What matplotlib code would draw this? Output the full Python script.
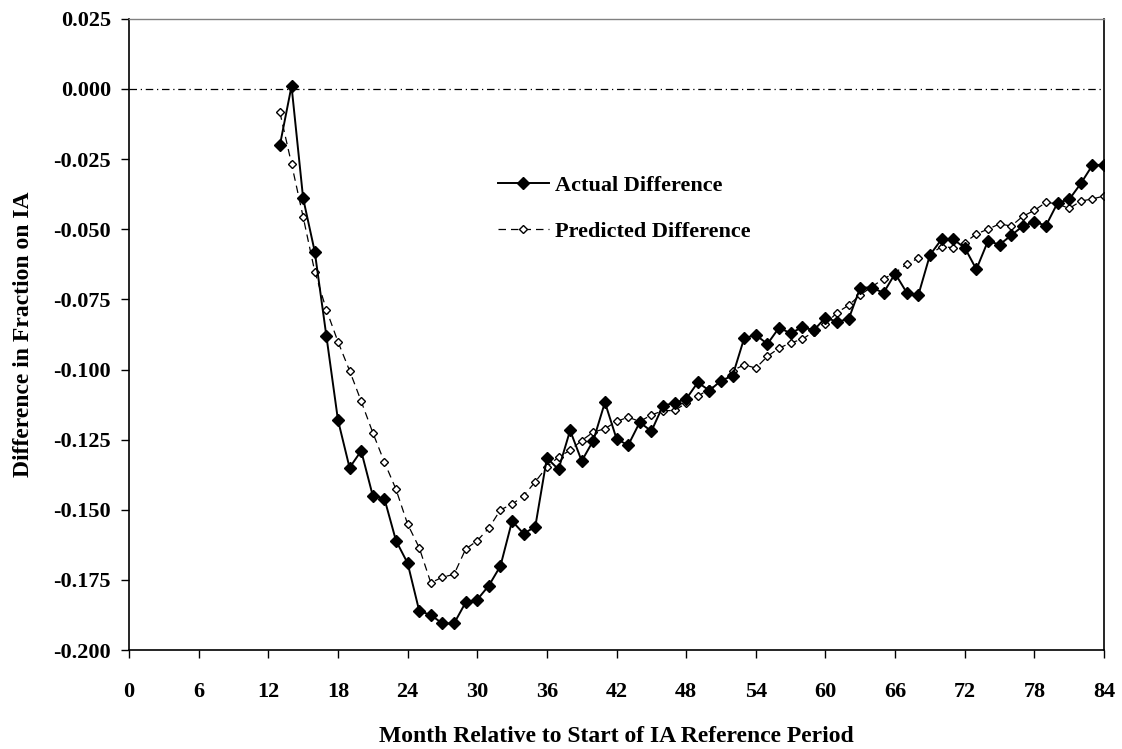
import matplotlib
matplotlib.use("Agg")
import matplotlib.pyplot as plt

# data
months = list(range(13, 85))

actual = [-0.020, 0.001, -0.039, -0.058, -0.088, -0.118, -0.135, -0.129,
          -0.145, -0.146, -0.161, -0.169, -0.186, -0.1875, -0.1905, -0.1905,
          -0.183, -0.182, -0.177, -0.170, -0.154, -0.1585, -0.156, -0.1315,
          -0.1356, -0.1217, -0.1326, -0.1253, -0.1117, -0.1247, -0.127, -0.1188,
          -0.122, -0.1129, -0.1119, -0.1105, -0.1046, -0.1075, -0.104, -0.1022,
          -0.0888, -0.0877, -0.0909, -0.0851, -0.0871, -0.0849, -0.086, -0.0815,
          -0.083, -0.082, -0.0708, -0.0708, -0.0727, -0.0658, -0.0726, -0.0735,
          -0.0592, -0.0536, -0.0536, -0.0566, -0.0643, -0.0542, -0.0555, -0.0522,
          -0.0489, -0.0474, -0.0487, -0.0406, -0.0394, -0.0337, -0.0272, -0.027]

predicted = [-0.0084, -0.0267, -0.0456, -0.0651, -0.0787, -0.0901, -0.1004, -0.1113,
             -0.1225, -0.133, -0.1427, -0.1551, -0.1635, -0.176, -0.174, -0.173,
             -0.164, -0.161, -0.1565, -0.150, -0.148, -0.145, -0.140, -0.1347,
             -0.1312, -0.1288, -0.1253, -0.1223, -0.1211, -0.1185, -0.117, -0.1185,
             -0.1162, -0.1147, -0.1146, -0.112, -0.1095, -0.107, -0.1045, -0.1004,
             -0.0983, -0.0995, -0.0953, -0.0924, -0.0905, -0.0892, -0.0865, -0.0838,
             -0.0797, -0.0771, -0.0734, -0.0705, -0.0677, -0.0655, -0.0625, -0.0603,
             -0.059, -0.0562, -0.0566, -0.0548, -0.0517, -0.050, -0.0481, -0.0489,
             -0.0454, -0.0433, -0.0404, -0.041, -0.0426, -0.040, -0.0392, -0.0382]

x_ticks = list(range(0, 85, 6))
y_ticks = [-0.200, -0.175, -0.150, -0.125, -0.100, -0.075, -0.050, -0.025, 0.000, 0.025]

plt.rcParams["font.family"] = ["Liberation Serif", "DejaVu Serif"]
plt.rcParams["font.weight"] = "bold"

fig = plt.figure(figsize=(11.22, 7.49), dpi=100)
ax = fig.add_axes([0.115, 0.132, 0.869, 0.843])

# zero reference line
ax.axhline(0, color="black", lw=0.9, ls=(0, (6, 3, 1, 3)), zorder=1)

ax.plot(months, predicted, color="black", lw=0.9, ls=(0, (6, 4)),
        marker="D", markersize=4.5, markerfacecolor="white",
        markeredgecolor="black", markeredgewidth=1.0, label="Predicted Difference", zorder=2)
ax.plot(months, actual, color="black", lw=1.4,
        marker="D", markersize=6.5, markerfacecolor="black",
        markeredgecolor="black", label="Actual Difference", zorder=3)

ax.set_xlim(0, 84)
ax.set_ylim(-0.200, 0.025)
ax.set_xticks(x_ticks)
ax.set_yticks(y_ticks)
ax.set_yticklabels([f"{v:.3f}" for v in y_ticks])
ax.tick_params(axis="both", direction="out", length=6, width=1, labelsize=16)
ax.tick_params(axis="x", pad=17)
ax.tick_params(axis="y", pad=7)

for side in ["left", "bottom", "right"]:
    ax.spines[side].set_color("black")
    ax.spines[side].set_linewidth(1.2)
ax.spines["top"].set_color("#808080")
ax.spines["top"].set_linewidth(1.0)

ax.set_xlabel("Month Relative to Start of IA Reference Period", fontsize=17,
              fontweight="bold", labelpad=17)
ax.set_ylabel("Difference in Fraction on IA", fontsize=17, fontweight="bold", labelpad=14)

handles, labels = ax.get_legend_handles_labels()
leg = ax.legend(handles[::-1], labels[::-1], loc="upper left",
                bbox_to_anchor=(0.378, 0.752), frameon=False, fontsize=16,
                handlelength=2.3, handletextpad=0.3, labelspacing=1.15,
                borderpad=0, borderaxespad=0)

fig.savefig("out.png", dpi=100)
